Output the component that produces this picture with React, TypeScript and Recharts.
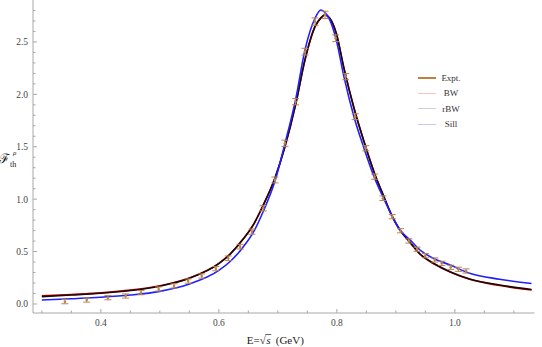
import { ComposedChart, Line, Scatter, ErrorBar, XAxis, YAxis, Legend } from "recharts";

// model curves, sampled at these energies (GeV)
const curveE = [0.3, 0.35, 0.4, 0.45, 0.5, 0.55, 0.6, 0.62, 0.64, 0.66, 0.675, 0.695, 0.712, 0.73, 0.746, 0.763, 0.773, 0.78, 0.788, 0.799, 0.812, 0.829, 0.846, 0.863, 0.88, 0.894, 0.907, 0.924, 0.941, 0.966, 0.992, 1.025, 1.076, 1.13];
const sillF = [0.038, 0.05, 0.064, 0.085, 0.12, 0.19, 0.32, 0.41, 0.535, 0.7, 0.88, 1.17, 1.53, 1.947, 2.424, 2.726, 2.805, 2.78, 2.71, 2.52, 2.169, 1.787, 1.486, 1.215, 1.0, 0.833, 0.706, 0.611, 0.515, 0.429, 0.372, 0.293, 0.236, 0.195];
const rbwF = [0.07, 0.085, 0.102, 0.128, 0.17, 0.245, 0.385, 0.48, 0.61, 0.77, 0.94, 1.2, 1.5, 1.9, 2.33, 2.646, 2.73, 2.758, 2.726, 2.583, 2.25, 1.87, 1.55, 1.26, 1.02, 0.833, 0.706, 0.589, 0.477, 0.382, 0.308, 0.239, 0.181, 0.138];
const bwF = [0.077, 0.091, 0.107, 0.132, 0.174, 0.248, 0.387, 0.482, 0.612, 0.772, 0.941, 1.2, 1.5, 1.9, 2.33, 2.646, 2.73, 2.758, 2.726, 2.583, 2.25, 1.87, 1.55, 1.26, 1.02, 0.833, 0.705, 0.587, 0.474, 0.378, 0.304, 0.235, 0.176, 0.133];

// experimental points
const expE = [0.339, 0.376, 0.412, 0.442, 0.468, 0.498, 0.524, 0.548, 0.571, 0.595, 0.616, 0.636, 0.656, 0.675, 0.695, 0.712, 0.73, 0.746, 0.763, 0.78, 0.798, 0.815, 0.831, 0.849, 0.864, 0.878, 0.894, 0.908, 0.922, 0.936, 0.95, 0.966, 0.978, 0.993, 1.006, 1.019];
const expF = [0.022, 0.038, 0.06, 0.076, 0.108, 0.143, 0.172, 0.219, 0.267, 0.337, 0.436, 0.547, 0.69, 0.913, 1.183, 1.533, 1.93, 2.407, 2.694, 2.758, 2.535, 2.169, 1.787, 1.486, 1.215, 1.009, 0.833, 0.699, 0.601, 0.522, 0.461, 0.42, 0.388, 0.35, 0.331, 0.315];
const expErr = [0.02, 0.02, 0.02, 0.02, 0.02, 0.02, 0.02, 0.02, 0.02, 0.02, 0.022, 0.022, 0.025, 0.025, 0.028, 0.03, 0.03, 0.032, 0.035, 0.035, 0.032, 0.03, 0.028, 0.025, 0.025, 0.022, 0.02, 0.02, 0.02, 0.02, 0.02, 0.02, 0.02, 0.02, 0.02, 0.02];

const xTicks = [0.3, 0.35, 0.4, 0.45, 0.5, 0.55, 0.6, 0.65, 0.7, 0.75, 0.8, 0.85, 0.9, 0.95, 1.0, 1.05, 1.1];
const xLabels = [0.4, 0.6, 0.8, 1.0];
const yTicks = [0, 0.1, 0.2, 0.3, 0.4, 0.5, 0.6, 0.7, 0.8, 0.9, 1.0, 1.1, 1.2, 1.3, 1.4, 1.5, 1.6, 1.7, 1.8, 1.9, 2.0, 2.1, 2.2, 2.3, 2.4, 2.5, 2.6, 2.7, 2.8];
const yLabels = [0, 0.5, 1.0, 1.5, 2.0, 2.5];

const legendItems = [
  { name: "Expt.", color: "#c0803f", width: 1.5 },
  { name: "BW", color: "#f6c4c4", width: 1 },
  { name: "rBW", color: "#d2d2d2", width: 1 },
  { name: "Sill", color: "#c8c8f0", width: 1 },
];

const curveData = curveE.map((e, i) => ({ e, sill: sillF[i], rbw: rbwF[i], bw: bwF[i] }));
const expData = expE.map((e, i) => ({ e, f: expF[i], err: expErr[i] }));

const FONT = "'Liberation Serif', 'DejaVu Serif', serif";
const AXIS = "#a8a8a8";
const TEXT = "#444";

const isIn = (list: number[], v: number) => list.some((m) => Math.abs(m - v) < 1e-6);

function XTick({ x, y, payload }: any) {
  const major = isIn(xLabels, payload.value);
  return (
    <g>
      <line x1={x} x2={x} y1={y} y2={y - (major ? 4 : 2.5)} stroke={AXIS} />
      {major && (
        <text x={x} y={y + 13} textAnchor="middle" fontFamily={FONT} fontSize={9.5} fill={TEXT}>
          {payload.value.toFixed(1)}
        </text>
      )}
    </g>
  );
}

function YTick({ x, y, payload }: any) {
  const major = isIn(yLabels, payload.value);
  return (
    <g>
      <line x1={x} x2={x + (major ? 4 : 2.5)} y1={y} y2={y} stroke={AXIS} />
      {major && (
        <text x={x - 5} y={y + 3.5} textAnchor="end" fontFamily={FONT} fontSize={9.5} fill={TEXT}>
          {payload.value.toFixed(1)}
        </text>
      )}
    </g>
  );
}

function Dot({ cx, cy }: any) {
  return <circle cx={cx} cy={cy} r={1.3} fill="#b9854f" />;
}

function LegendBox() {
  return (
    <div style={{ fontFamily: FONT, fontSize: 9, color: "#333" }}>
      {legendItems.map((it) => (
        <div key={it.name} style={{ display: "flex", alignItems: "center", height: 15.5 }}>
          <div style={{ width: 18, height: it.width, background: it.color, marginRight: 4 }} />
          <div style={{ width: 22, textAlign: "center" }}>{it.name}</div>
        </div>
      ))}
    </div>
  );
}

function XLabel({ viewBox }: any) {
  const x0 = viewBox.x + viewBox.width / 2 - 37;
  const by = viewBox.y + 31;
  return (
    <g fontFamily={FONT} fontSize={11} fill="#222">
      <text x={x0} y={by} fill="#222">E=√</text>
      <text x={x0 + 19.5} y={by} fill="#222" fontStyle="italic">s</text>
      <line x1={x0 + 18.5} x2={x0 + 24.5} y1={by - 9.5} y2={by - 9.5} stroke="#222" strokeWidth={0.7} />
      <text x={x0 + 29} y={by} fill="#222">(GeV)</text>
    </g>
  );
}

function YLabel() {
  return (
    <g fontFamily={FONT} fill="#222">
      <text x={-1} y={163} fontSize={13} fill="#222">ℱ</text>
      <text x={10} y={167} fontSize={8} fill="#222">th</text>
      <text x={13} y={155} fontSize={7} fill="#222" fontStyle="italic">ρ</text>
    </g>
  );
}

export default function App() {
  return (
    <div style={{ position: "absolute", left: 0, top: 0, background: "#fff" }}>
      <ComposedChart width={542} height={347} data={curveData} margin={{ top: 0, right: 7.5, left: 0, bottom: 0 }}>
        <XAxis
          dataKey="e"
          type="number"
          domain={[0.285, 1.135]}
          ticks={xTicks}
          interval={0}
          tick={<XTick />}
          tickLine={false}
          tickSize={0}
          tickMargin={0}
          height={34}
          axisLine={{ stroke: AXIS }}
          allowDataOverflow
          label={<XLabel />}
        />
        <YAxis
          type="number"
          domain={[-0.086, 2.9]}
          ticks={yTicks}
          interval={0}
          tick={<YTick />}
          tickLine={false}
          tickSize={0}
          tickMargin={0}
          width={33}
          axisLine={{ stroke: AXIS }}
          allowDataOverflow
          label={<YLabel />}
        />
        <Legend
          layout="vertical"
          align="center"
          verticalAlign="middle"
          content={<LegendBox />}
          wrapperStyle={{ left: 418, top: 70, width: 60 }}
        />
        <Line dataKey="bw" type="monotone" stroke="#cc0000" strokeWidth={1.6} dot={false} isAnimationActive={false} />
        <Line dataKey="rbw" type="monotone" stroke="#1a0808" strokeWidth={1.6} dot={false} isAnimationActive={false} />
        <Line dataKey="sill" type="monotone" stroke="#1f1fff" strokeWidth={1.6} dot={false} isAnimationActive={false} />
        <Scatter data={expData} dataKey="f" shape={<Dot />} isAnimationActive={false}>
          <ErrorBar dataKey="err" direction="y" width={3.5} stroke="#b9854f" strokeWidth={1} />
        </Scatter>
      </ComposedChart>
    </div>
  );
}
